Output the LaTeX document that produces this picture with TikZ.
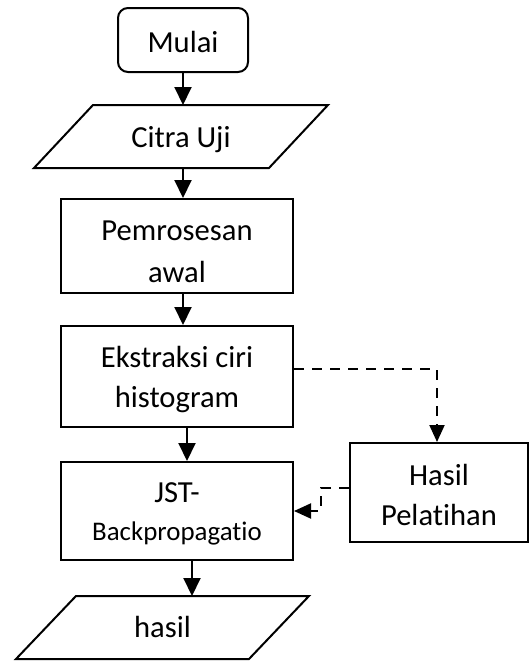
\documentclass[tikz,border=0pt]{standalone}
\usepackage{fontspec}
\setmainfont{Carlito}[Ligatures=NoCommon]
\usetikzlibrary{arrows.meta}
\begin{document}
\begin{tikzpicture}[x=1pt,y=-1pt,
  box/.style={draw, line width=2pt, minimum width=232pt, inner sep=0pt, align=center, font=\fontsize{30.6}{41}\selectfont},
  io/.style={inner sep=0pt, outer sep=0pt, minimum height=63pt, font=\fontsize{30.6}{41}\selectfont},
  iobord/.style={line width=2pt, line join=miter},
  flow/.style={line width=2pt, -{Triangle[length=18pt,width=17pt]}},
  dflow/.style={line width=2pt, dash pattern=on 10pt off 8pt, -{Triangle[length=17pt,width=15pt]}}]
\useasboundingbox (0,0) rectangle (530,662);
\node[box, rounded corners=10pt, minimum width=130pt, minimum height=64pt, text height=24pt, text depth=0pt] (mu) at (183,40) {Mulai};
\node[io, minimum width=294pt, text height=21pt, text depth=0pt] (ci) at (181,136.5) {Citra Uji};
\draw[iobord] (ci.south west) -- ([xshift=-59pt]ci.south east) -- (ci.north east) -- ([xshift=59pt]ci.north west) -- cycle;
\node[box, minimum height=94pt, text height=72pt, text depth=0pt, font=\fontsize{30.6}{42}\selectfont] (pe) at (177,246) {Pemrosesan\\awal};
\node[box, minimum height=101pt, text height=61pt, text depth=0pt, font=\fontsize{30.6}{40}\selectfont] (ek) at (177,376.5) {Ekstraksi ciri\\histogram};
\node[box, minimum height=98pt, text height=58pt, text depth=0pt, font=\fontsize{26.9}{38}\selectfont] (js) at (177,511) {{\fontsize{30.6}{38}\selectfont JST-}\\Backpropagatio};
\node[box, minimum width=178pt, minimum height=99pt, text height=65pt, text depth=0pt, font=\fontsize{30.6}{40}\selectfont] (hp) at (439,492.5) {Hasil\\Pelatihan};
\node[io, minimum width=293pt, text height=19pt, text depth=0pt] (ha) at (162.5,627.5) {hasil};
\draw[iobord] (ha.south west) -- ([xshift=-60pt]ha.south east) -- (ha.north east) -- ([xshift=60pt]ha.north west) -- cycle;
\draw[flow] (mu.south) -- (mu.south |- ci.north);
\draw[flow] (mu.south |- ci.south) -- (mu.south |- pe.north);
\draw[flow] (mu.south |- pe.south) -- (mu.south |- ek.north);
\draw[flow] ([xshift=10pt]ek.south) -- ([xshift=10pt]js.north);
\draw[flow] ([xshift=15pt]js.south) -- ([xshift=15pt]js.south |- ha.north);
\draw[dflow] ([yshift=7.5pt]ek.east) -| ([xshift=-2pt]hp.north);
\draw[dflow] ([yshift=4.5pt]hp.west) -- ++(-28pt,0) |- (js.east);
\end{tikzpicture}
\end{document}
